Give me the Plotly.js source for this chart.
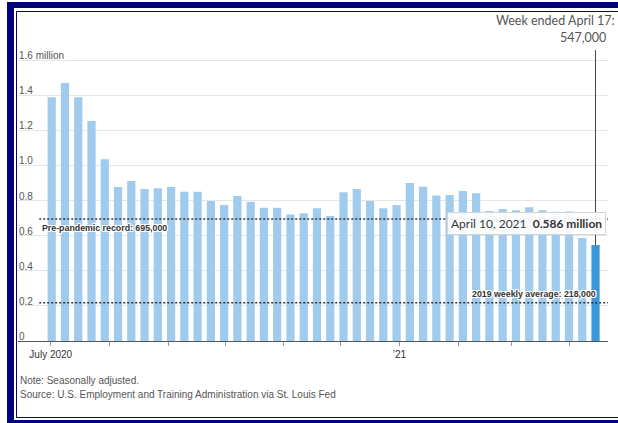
<!DOCTYPE html>
<html>
<head>
<meta charset="utf-8">
<script src="https://cdn.plot.ly/plotly-3.0.1.min.js"></script>
<style>
  html, body { margin: 0; padding: 0; background: #fff; overflow: hidden; width: 618px; height: 423px; }
  #wrap { position: relative; width: 618px; height: 423px; overflow: hidden; }
  #chart { position: absolute; left: 0; top: 0; width: 618px; height: 423px; }
  .frame { position: absolute; pointer-events: none; box-sizing: border-box; }
  #outer { left: 7px; top: 2px; width: 611px; height: 424px;
           border-left: 7px solid #000080; border-top: 6px solid #000080; border-bottom: 6px solid #000080; }
  #inner { left: 16px; top: 11px; width: 602px; height: 406.5px;
           border-left: 1.5px solid #000080; border-top: 1.5px solid #000080; border-bottom: 1.5px solid #000080; }
</style>
</head>
<body>
<div id="wrap">
  <div id="chart"></div>
  <div id="outer" class="frame"></div>
  <div id="inner" class="frame"></div>
</div>
<script>
// Week-ended dates (Saturdays)
const weekEnded = [
  '2020-07-04','2020-07-11','2020-07-18','2020-07-25','2020-08-01','2020-08-08','2020-08-15',
  '2020-08-22','2020-08-29','2020-09-05','2020-09-12','2020-09-19','2020-09-26','2020-10-03',
  '2020-10-10','2020-10-17','2020-10-24','2020-10-31','2020-11-07','2020-11-14','2020-11-21',
  '2020-11-28','2020-12-05','2020-12-12','2020-12-19','2020-12-26','2021-01-02','2021-01-09',
  '2021-01-16','2021-01-23','2021-01-30','2021-02-06','2021-02-13','2021-02-20','2021-02-27',
  '2021-03-06','2021-03-13','2021-03-20','2021-03-27','2021-04-03','2021-04-10','2021-04-17'
];
// Initial jobless claims, millions (seasonally adjusted)
const claims = [
  1.388, 1.469, 1.388, 1.253, 1.035, 0.877, 0.911,
  0.866, 0.870, 0.877, 0.850, 0.850, 0.797, 0.774,
  0.826, 0.793, 0.759, 0.759, 0.721, 0.727, 0.756,
  0.712, 0.847, 0.866, 0.797, 0.756, 0.774, 0.899,
  0.879, 0.828, 0.831, 0.854, 0.841, 0.740, 0.752,
  0.745, 0.761, 0.744, 0.736, 0.738, 0.586, 0.547
];
const prePandemicRecord = 0.695;
const avg2019 = 0.218;

const yTickVals = [0, 0.2, 0.4, 0.6, 0.8, 1.0, 1.2, 1.4, 1.6];
const yTickText = ['0', '0.2', '0.4', '0.6', '0.8', '1.0', '1.2', '1.4', '1.6 million'];
const xTickVals = ['2020-07-01','2020-08-01','2020-09-01','2020-10-01','2020-11-01','2020-12-01',
                   '2021-01-01','2021-02-01','2021-03-01','2021-04-01'];
const xTickText = ['July 2020','','','','','',"\u201921",'','',''];

const tooltipLabel = 'April 10, 2021';
const tooltipValue = '0.586 million';
const latestLabel1 = 'Week ended April 17:';
const latestLabel2 = '547,000';
const noteText = 'Note: Seasonally adjusted.';
const sourceText = 'Source: U.S. Employment and Training Administration via St. Louis Fed';

// place each weekly bar at the middle of its Sunday–Saturday week
function midWeek(s) {
  const d = new Date(s + 'T00:00:00Z');
  const m = new Date(d.getTime() - 2.5 * 86400000);
  return m.toISOString().slice(0, 19).replace('T', ' ');
}
const xMid = weekEnded.map(midWeek);
const n = claims.length;
const colors = claims.map((v, i) => i === n - 1 ? '#3a97db' : '#a0cbed');

const narrow = '"Liberation Sans Narrow", "Liberation Sans", Arial, sans-serif';
const halo = '1px 0 0 #fff, -1px 0 0 #fff, 0 1px 0 #fff, 0 -1px 0 #fff, 1px 1px 0 #fff, -1px -1px 0 #fff, 1px -1px 0 #fff, -1px 1px 0 #fff';

// plot area: top at 40px, bottom at 341px -> 301px for the y range
const yTop = 1.714;
const lineTop = 1.657;

const trace = {
  type: 'bar',
  x: xMid,
  y: claims,
  marker: { color: colors, line: { width: 0 } },
  hoverinfo: 'skip'
};

// y tick labels sit just above their gridlines, inside the plot at the left
const yLabelAnnotations = yTickVals.map((v, i) => ({
  xref: 'paper', x: 0, xanchor: 'left',
  yref: 'y', y: v, yanchor: 'middle', yshift: 4.5,
  text: yTickText[i], showarrow: false, borderpad: 0,
  font: { family: narrow, size: 10, color: '#555' }
}));

const layout = {
  width: 618, height: 423,
  margin: { l: 18, r: 10, t: 40, b: 82 },
  paper_bgcolor: 'rgba(0,0,0,0)',
  plot_bgcolor: 'rgba(0,0,0,0)',
  bargap: 0.38,
  showlegend: false,
  xaxis: {
    type: 'date',
    range: ['2020-06-13 17:00', '2021-04-21 02:00'],
    tickmode: 'array', tickvals: xTickVals, ticktext: xTickText,
    ticks: 'outside', ticklen: 4, tickcolor: '#999', tickwidth: 1,
    showline: true, linecolor: '#555', linewidth: 1,
    showgrid: false, zeroline: false,
    tickfont: { family: narrow, size: 10, color: '#333' }
  },
  yaxis: {
    range: [0, yTop],
    tickmode: 'array', tickvals: yTickVals, ticktext: yTickText,
    showticklabels: false,
    ticks: '', showline: false, zeroline: false,
    showgrid: true, gridcolor: '#e6e6e6', gridwidth: 1
  },
  shapes: [
    { type: 'line', xref: 'paper', x0: 0.036, x1: 1, yref: 'y', y0: prePandemicRecord, y1: prePandemicRecord,
      line: { color: '#333', width: 1.6, dash: '2px,2px' } },
    { type: 'line', xref: 'paper', x0: 0.036, x1: 1, yref: 'y', y0: avg2019, y1: avg2019,
      line: { color: '#333', width: 1.6, dash: '2px,2px' } },
    { type: 'line', xref: 'x', x0: xMid[n - 1], x1: xMid[n - 1], yref: 'y', y0: claims[n - 1], y1: lineTop,
      line: { color: '#444', width: 1 } }
  ],
  annotations: yLabelAnnotations.concat([
    { xref: 'paper', x: 0.037, xanchor: 'left', yref: 'y', y: prePandemicRecord, yanchor: 'top', yshift: -2,
      text: 'Pre-pandemic record: 695,000', showarrow: false,
      font: { family: narrow, size: 8.8, color: '#333', weight: 'bold', shadow: halo } },
    { xref: 'paper', x: 0.983, xanchor: 'right', yref: 'y', y: avg2019, yanchor: 'bottom', yshift: 2,
      text: '2019 weekly average: 218,000', showarrow: false,
      font: { family: narrow, size: 8.8, color: '#333', weight: 'bold', shadow: halo } },
    { xref: 'x', x: xMid[n - 2], xanchor: 'right', xshift: 24, yref: 'y', y: claims[n - 2], yanchor: 'bottom', yshift: 3,
      text: tooltipLabel + '  <b>' + tooltipValue + '</b>', showarrow: false,
      bgcolor: 'rgba(255,255,255,0.92)', bordercolor: '#d4d4d4', borderwidth: 1, borderpad: 3,
      font: { family: 'Lato, "Open Sans", sans-serif', size: 12, color: '#333' } },
    { xref: 'paper', x: 1.015, xanchor: 'right', yref: 'paper', y: 1.066, yanchor: 'middle',
      text: latestLabel1, showarrow: false,
      font: { family: 'Lato, "Open Sans", sans-serif', size: 12.5, color: '#555' } },
    { xref: 'paper', x: 1.0, xanchor: 'right', yref: 'paper', y: 1.007, yanchor: 'middle',
      text: latestLabel2, showarrow: false,
      font: { family: 'Lato, "Open Sans", sans-serif', size: 12.5, color: '#555' } },
    { xref: 'paper', x: 0.0, xanchor: 'left', yref: 'paper', y: -0.1296, yanchor: 'middle',
      text: noteText, showarrow: false,
      font: { family: narrow, size: 10, color: '#555' } },
    { xref: 'paper', x: 0.0, xanchor: 'left', yref: 'paper', y: -0.1794, yanchor: 'middle',
      text: sourceText, showarrow: false,
      font: { family: narrow, size: 10, color: '#555' } }
  ])
};

Plotly.newPlot('chart', [trace], layout, { staticPlot: true, displayModeBar: false });
</script>
</body>
</html>
